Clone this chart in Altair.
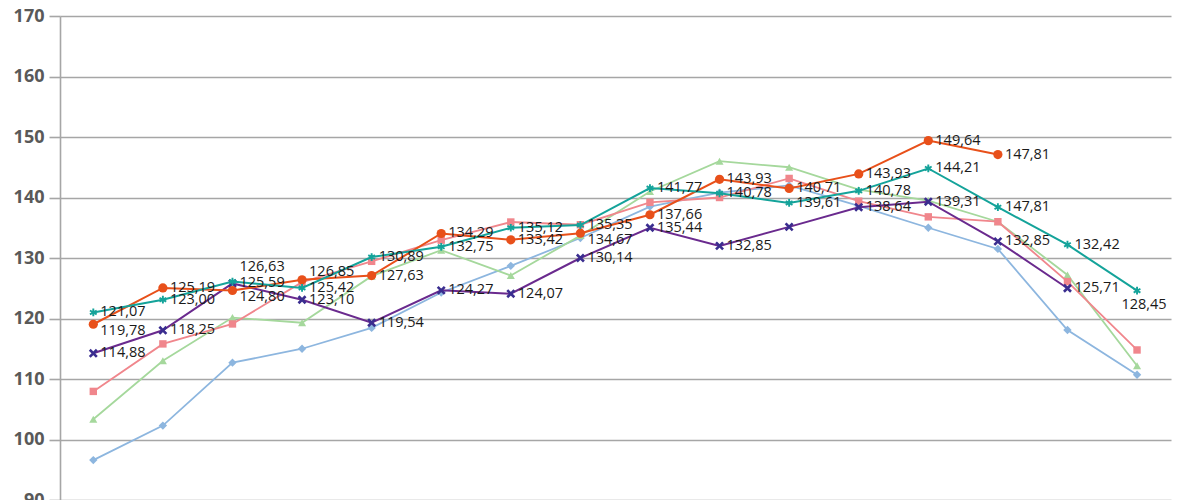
import altair as alt
import pandas as pd

# ---- data ----
idx = list(range(16))

orange = [119.05, 125.05, 124.63, 126.4, 127.1, 134.05, 133.0, 134.1, 137.15, 143.0, 141.5, 143.9, 149.4, 147.1]
teal = [121.0, 123.1, 126.1, 125.05, 130.15, 131.85, 135.0, 135.45, 141.55, 140.7, 139.1, 141.1, 144.8, 138.4, 132.2, 124.6]
purple = [114.25, 118.05, 125.8, 123.1, 119.3, 124.65, 124.1, 130.0, 135.0, 132.0, 135.15, 138.4, 139.3, 132.75, 125.0]
pink = [107.95, 115.8, 119.1, 126.0, 129.45, 132.95, 135.95, 135.5, 139.2, 140.0, 143.15, 139.4, 136.8, 136.0, 126.1, 114.8]
green = [103.35, 113.0, 120.15, 119.3, 127.0, 131.3, 127.1, 133.7, 141.0, 146.0, 145.0, 141.3, 139.5, 136.0, 127.2, 112.2]
blue = [96.6, 102.3, 112.7, 115.0, 118.45, 124.3, 128.7, 133.3, 138.5, 140.8, 142.0, 138.6, 135.0, 131.5, 118.1, 110.7]

orange_labels = ["119,78", "125,19", "124,80", "126,85", "127,63", "134,29", "133,42", "134,67",
                 "137,66", "143,93", "140,71", "143,93", "149,64", "147,81"]
orange_place = ["dn", "r", "dn", "up", "r", "r", "r", "dn", "r", "r", "r", "r", "r", "r"]

teal_labels = ["121,07", "123,00", "126,63", "125,42", "130,89", "132,75", "135,12", "135,35",
               "141,77", "140,78", "139,61", "140,78", "144,21", "147,81", "132,42", "128,45"]
teal_place = ["r", "r", "up2", "r", "r", "r", "r", "r", "r", "r", "r", "r", "r", "r", "r", "under"]

purple_labels = ["114,88", "118,25", "125,59", "123,10", "119,54", "124,27", "124,07", "130,14",
                 "135,44", "132,85", "", "138,64", "139,31", "132,85", "125,71"]
purple_place = ["r"] * 15

y_ticks = [90, 100, 110, 120, 130, 140, 150, 160, 170]

# ---- styles ----
FONT = "Open Sans"
xs = alt.Scale(domain=[-0.4786, 15.488], nice=False, zero=False)
ys = alt.Scale(domain=[90, 170], nice=False, zero=False)
yaxis = alt.Axis(values=y_ticks, grid=True, gridColor="#a6a6a6", gridWidth=1.6,
                 domainColor="#a6a6a6", domainWidth=1.6, tickColor="#a6a6a6", tickWidth=1.6,
                 tickSize=11, labelPadding=5, labelFont=FONT, labelFontSize=18,
                 labelFontWeight="bold", labelColor="#595959", title=None)

X_PATH = "M-1,-1L1,1M-1,1L1,-1"
STAR_PATH = "M0,-1L0,1M-0.87,-0.5L0.87,0.5M-0.87,0.5L0.87,-0.5"

series_cfg = [
    ("blue", blue, "#8db6df", "#8db6df", "diamond", 70, True, 1.8, 0),
    ("green", green, "#a5d89c", "#a5d89c", "triangle-up", 65, True, 1.8, 0),
    ("pink", pink, "#f0868c", "#f0868c", "square", 55, True, 1.8, 0),
    ("purple", purple, "#6a2a8e", "#3a2d8f", X_PATH, 50, False, 2.0, 2.6),
    ("orange", orange, "#e8501a", "#e8501a", "circle", 85, True, 2.0, 0),
    ("teal", teal, "#14a39a", "#14a39a", STAR_PATH, 60, False, 2.0, 1.9),
]

layers = []
for name, vals, lc, mc, shape, size, filled, sw, msw in series_cfg:
    df = pd.DataFrame({"i": idx[:len(vals)], "v": vals})
    base = alt.Chart(df).encode(
        x=alt.X("i:Q", scale=xs, axis=None),
        y=alt.Y("v:Q", scale=ys, axis=yaxis),
    )
    layers.append(base.mark_line(color=lc, strokeWidth=sw))
    if filled:
        pts = base.mark_point(shape=shape, size=size, filled=True, color=mc, opacity=1)
    else:
        pts = base.mark_point(shape=shape, size=size, filled=False, stroke=mc,
                              strokeWidth=msw, opacity=1)
    layers.append(pts)

rows = []
for vals, labs, places in [(orange, orange_labels, orange_place),
                           (teal, teal_labels, teal_place),
                           (purple, purple_labels, purple_place)]:
    for i, (v, t, p) in enumerate(zip(vals, labs, places)):
        if t:
            rows.append({"i": i, "v": v, "t": t, "p": p})
lab_df = pd.DataFrame(rows)

place_style = {
    "r": dict(dx=7, dy=0, align="left"),
    "up": dict(dx=7, dy=-8, align="left"),
    "up2": dict(dx=7, dy=-15, align="left"),
    "dn": dict(dx=7, dy=7, align="left"),
    "under": dict(dx=7, dy=14, align="center"),
}
for p, st in place_style.items():
    layers.append(
        alt.Chart(lab_df).transform_filter(alt.datum.p == p).mark_text(
            font=FONT, fontSize=14.5, color="#1a1a1a", baseline="middle", **st
        ).encode(
            x=alt.X("i:Q", scale=xs, axis=None),
            y=alt.Y("v:Q", scale=ys, axis=yaxis),
            text="t:N",
        )
    )

chart = alt.layer(*layers).properties(
    width=1111, height=484,
    autosize=alt.AutoSizeParams(type="none"),
    padding={"top": 8, "left": 52, "right": 3, "bottom": 0},
    background="white",
).configure_view(stroke=None)

chart.save("out.html", embed_options={"renderer": "svg", "actions": False})
